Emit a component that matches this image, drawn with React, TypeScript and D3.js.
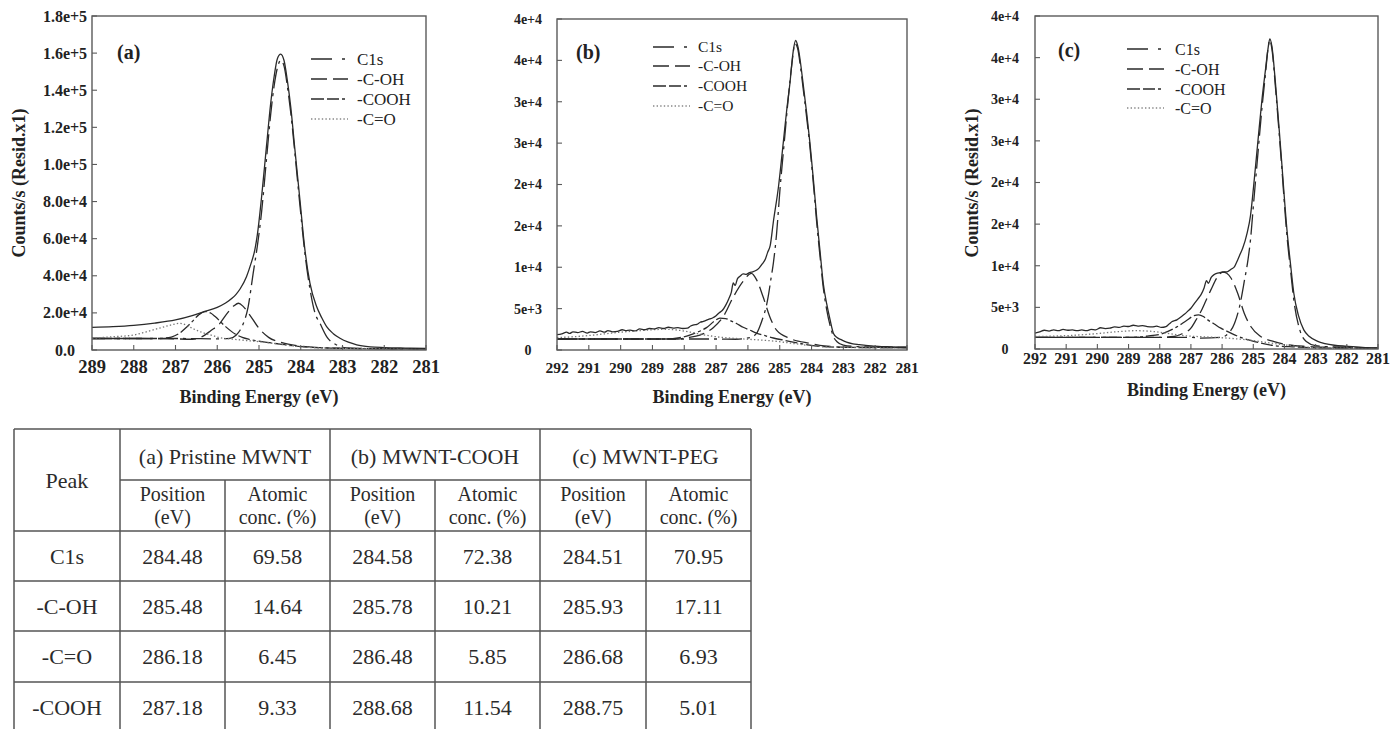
import React from "react";
import * as d3 from "d3";

type Pt = [number, number];

// ---------------- Data ----------------
const xTicksA = [289, 288, 287, 286, 285, 284, 283, 282, 281];
const yTicksA = [0, 20000, 40000, 60000, 80000, 100000, 120000, 140000, 160000, 180000];
const yTickLabelsA = ["0.0", "2.0e+4", "4.0e+4", "6.0e+4", "8.0e+4", "1.0e+5", "1.2e+5", "1.4e+5", "1.6e+5", "1.8e+5"];
const xTicksBC = [292, 291, 290, 289, 288, 287, 286, 285, 284, 283, 282, 281];
const yTicksBC = [0, 5000, 10000, 15000, 20000, 25000, 30000, 35000, 40000];
const yTickLabelsBC = ["0", "5e+3", "1e+4", "2e+4", "2e+4", "3e+4", "3e+4", "4e+4", "4e+4"];

const legendLabels = ["C1s", "-C-OH", "-COOH", "-C=O"];

// Panel (a) Pristine MWNT
const envA: Pt[] = [
  [289.0, 12200], [288.5, 12600], [288.0, 13300], [287.5, 14500], [287.0, 16200], [286.6, 18500],
  [286.3, 20800], [286.0, 23000], [285.8, 25300], [285.64, 28000], [285.55, 30000], [285.45, 33000],
  [285.3, 39500], [285.2, 46000], [285.1, 54000], [285.04, 62000], [284.94, 82000], [284.82, 110000],
  [284.72, 133000], [284.64, 147000], [284.56, 157000], [284.48, 159500], [284.4, 156000],
  [284.32, 145000], [284.24, 131000], [284.14, 108000], [284.02, 81000], [283.9, 54000],
  [283.78, 36000], [283.62, 23400], [283.5, 17500], [283.38, 12600], [283.22, 8800], [283.06, 6300],
  [282.86, 4200], [282.66, 2800], [282.34, 1700], [282.0, 1300], [281.5, 1050], [281.0, 900],
];
const c1sA: Pt[] = [
  [289.0, 6200], [288.0, 6200], [287.0, 6200], [286.4, 6100], [286.0, 6000], [285.7, 6300],
  [285.55, 8000], [285.45, 10800], [285.38, 14000], [285.26, 23300], [285.14, 41300], [285.04, 56000],
  [284.94, 74000], [284.82, 103000], [284.72, 127000], [284.64, 142000], [284.56, 152000],
  [284.48, 156000], [284.4, 153000], [284.32, 142000], [284.24, 128000], [284.14, 106000],
  [284.02, 78000], [283.9, 52000], [283.78, 33000], [283.66, 20000], [283.54, 14400], [283.38, 7200],
  [283.14, 2700], [282.9, 1100], [282.5, 800], [282.0, 700], [281.0, 600],
];
const cohA: Pt[] = [
  [289.0, 6200], [288.0, 6200], [287.2, 6100], [286.6, 5800], [286.3, 8000], [286.15, 10500],
  [285.97, 13500], [285.73, 20700], [285.6, 23800], [285.49, 25200], [285.38, 23500], [285.25, 19800],
  [285.0, 11700], [284.77, 6800], [284.45, 3950], [284.05, 2200], [283.5, 1200], [283.0, 900],
  [282.0, 700], [281.0, 600],
];
const coohA: Pt[] = [
  [289.0, 6200], [288.0, 6200], [287.4, 6200], [287.1, 7000], [286.92, 8800], [286.75, 12000],
  [286.6, 15300], [286.45, 18800], [286.29, 20700], [286.15, 19800], [286.05, 18000], [285.8, 12600],
  [285.57, 8600], [285.4, 6800], [285.25, 5800], [285.0, 4800], [284.5, 3200], [284.0, 1800],
  [283.5, 1200], [283.0, 900], [282.0, 700], [281.0, 600],
];
const cdoA: Pt[] = [
  [289.0, 6300], [288.6, 7000], [288.0, 8100], [287.7, 9800], [287.4, 11700], [287.1, 13500],
  [286.9, 14400], [286.75, 13500], [286.6, 11700], [286.45, 10200], [286.3, 9000], [286.1, 7700],
  [285.97, 6800], [285.6, 5800], [285.3, 5100], [285.0, 4500], [284.6, 3400], [284.2, 2200],
  [283.8, 1400], [283.3, 1000], [282.5, 800], [281.0, 600],
];

// Panel (b) MWNT-COOH
const envB: Pt[] = [
  [292.0, 1850], [291.85, 1950], [291.7, 2150], [291.6, 2000], [291.5, 2200], [291.35, 2100],
  [291.2, 2250], [291.05, 2050], [290.95, 2200], [290.8, 2100], [290.65, 2300], [290.5, 2150],
  [290.4, 2350], [290.25, 2200], [290.1, 2250], [289.95, 2450], [289.85, 2350], [289.7, 2400],
  [289.55, 2300], [289.4, 2550], [289.25, 2450], [289.1, 2600], [288.95, 2550], [288.8, 2700],
  [288.65, 2600], [288.5, 2750], [288.35, 2650], [288.2, 2700], [288.05, 2600], [287.9, 2650],
  [287.8, 2900], [287.7, 3050], [287.6, 3100], [287.5, 3350], [287.4, 3450], [287.3, 3600],
  [287.2, 3750], [287.1, 3900], [287.0, 4150], [286.9, 4500], [286.8, 4800], [286.7, 5400],
  [286.6, 6200], [286.52, 7000], [286.46, 8100], [286.4, 7800], [286.33, 8600], [286.25, 8900],
  [286.15, 9200], [286.05, 9150], [285.95, 9350], [285.85, 9450], [285.75, 9600], [285.65, 9900],
  [285.55, 10400], [285.45, 11000], [285.38, 11800], [285.3, 12600], [285.2, 15500], [285.04, 19700],
  [284.89, 25000], [284.78, 29000], [284.68, 32200], [284.58, 36000], [284.5, 37400], [284.42, 36500],
  [284.34, 34500], [284.26, 32000], [284.15, 28500], [284.05, 25000], [283.94, 20500], [283.84, 16100],
  [283.73, 11800], [283.63, 8000], [283.52, 5500], [283.42, 3700], [283.31, 2000], [283.2, 1500],
  [283.1, 1300], [282.9, 950], [282.7, 750], [282.5, 650], [282.3, 550], [282.05, 480], [281.8, 420],
  [281.5, 380], [281.2, 330], [281.0, 320],
];
const c1sB: Pt[] = [
  [292.0, 1330], [290.0, 1330], [288.0, 1330], [287.0, 1330], [286.36, 1300], [285.94, 1500],
  [285.73, 2000], [285.62, 2900], [285.52, 4000], [285.44, 5000], [285.36, 6500], [285.28, 8500],
  [285.2, 10500], [285.1, 14000], [284.99, 19500], [284.86, 25000], [284.73, 30500], [284.62, 34500],
  [284.52, 37000], [284.44, 36500], [284.34, 34000], [284.26, 31500], [284.15, 28000], [284.05, 24500],
  [283.94, 20000], [283.84, 15500], [283.73, 11200], [283.63, 7500], [283.52, 4800], [283.42, 3000],
  [283.31, 1600], [283.2, 1000], [283.0, 600], [282.5, 400], [282.0, 330], [281.0, 300],
];
const cohB: Pt[] = [
  [292.0, 1330], [290.0, 1330], [288.2, 1330], [287.9, 1500], [287.51, 1800], [287.09, 2700],
  [286.78, 4000], [286.46, 6400], [286.15, 8300], [285.89, 9260], [285.73, 8500], [285.52, 6400],
  [285.31, 4000], [285.1, 2400], [284.68, 1400], [284.05, 800], [283.6, 500], [283.0, 350],
  [282.0, 300], [281.0, 300],
];
const coohB: Pt[] = [
  [292.0, 1330], [290.0, 1330], [288.56, 1330], [288.2, 1450], [287.83, 1800], [287.5, 2300],
  [287.3, 2700], [287.05, 3500], [286.88, 3850], [286.7, 3800], [286.5, 3450], [286.36, 3200],
  [286.15, 2750], [285.94, 2400], [285.73, 2050], [285.52, 1800], [285.2, 1450], [284.89, 1200],
  [284.5, 900], [284.26, 720], [283.63, 400], [283.0, 320], [282.0, 300], [281.0, 300],
];
const cdoB: Pt[] = [
  [292.0, 1500], [291.5, 1600], [291.0, 1750], [290.5, 1950], [290.0, 2150], [289.5, 2300],
  [289.0, 2450], [288.6, 2500], [288.2, 2400], [287.8, 2150], [287.4, 1850], [287.0, 1600],
  [286.6, 1450], [286.2, 1350], [285.8, 1250], [285.4, 1150], [285.0, 1000], [284.6, 800],
  [284.2, 600], [283.8, 450], [283.3, 350], [282.5, 300], [281.0, 300],
];

// Panel (c) MWNT-PEG
const envC: Pt[] = [
  [292.0, 1900], [291.85, 2050], [291.7, 2250], [291.55, 2150], [291.4, 2300], [291.25, 2200],
  [291.1, 2350], [290.95, 2250], [290.8, 2300], [290.65, 2200], [290.5, 2300], [290.35, 2200],
  [290.2, 2350], [290.05, 2300], [289.9, 2550], [289.75, 2450], [289.6, 2500], [289.45, 2650],
  [289.3, 2600], [289.15, 2750], [289.0, 2700], [288.85, 2850], [288.7, 2750], [288.55, 2800],
  [288.4, 2700], [288.25, 2650], [288.1, 2750], [287.95, 2600], [287.8, 2700], [287.7, 3000],
  [287.6, 3300], [287.45, 3500], [287.32, 3850], [287.2, 4200], [287.1, 4550], [287.0, 4900],
  [286.88, 5500], [286.78, 6000], [286.68, 6500], [286.58, 7300], [286.5, 8200], [286.44, 7900],
  [286.35, 8600], [286.25, 8950], [286.15, 9100], [286.04, 9200], [285.93, 9250], [285.82, 9300],
  [285.7, 9600], [285.6, 9900], [285.5, 10700], [285.42, 11400], [285.34, 12100], [285.2, 13900],
  [285.09, 16000], [284.99, 19500], [284.85, 25000], [284.72, 30000], [284.61, 33500], [284.53, 36000],
  [284.47, 37260], [284.4, 36300], [284.29, 32000], [284.12, 24000], [283.91, 13900], [283.8, 10000],
  [283.7, 6700], [283.55, 4000], [283.38, 2300], [283.2, 1500], [282.95, 950], [282.7, 650],
  [282.4, 450], [282.0, 330], [281.5, 200], [281.0, 120],
];
const c1sC: Pt[] = [
  [292.0, 1400], [290.0, 1400], [287.0, 1400], [286.68, 1300], [286.04, 1400], [285.82, 1800],
  [285.6, 3100], [285.44, 5100], [285.28, 8300], [285.17, 10700], [285.09, 13100], [284.99, 17500],
  [284.85, 23500], [284.72, 29000], [284.61, 33000], [284.53, 36000], [284.47, 37100], [284.4, 36000],
  [284.29, 31500], [284.12, 23500], [283.91, 13200], [283.8, 9300], [283.7, 5900], [283.5, 2200],
  [283.3, 900], [283.0, 400], [282.5, 250], [282.0, 200], [281.0, 100],
];
const cohC: Pt[] = [
  [292.0, 1400], [290.0, 1400], [288.0, 1400], [287.54, 1500], [287.3, 1800], [287.0, 2500],
  [286.85, 3400], [286.68, 4500], [286.52, 5800], [286.36, 7100], [286.14, 8700], [285.98, 9250],
  [285.85, 9100], [285.71, 8500], [285.5, 6700], [285.29, 4300], [285.08, 2700], [284.76, 1500],
  [284.33, 900], [283.9, 500], [283.26, 300], [282.5, 200], [281.0, 100],
];
const coohC: Pt[] = [
  [292.0, 1400], [290.0, 1400], [288.82, 1400], [288.4, 1550], [287.96, 1800], [287.43, 2700],
  [287.15, 3400], [286.9, 4000], [286.75, 4100], [286.6, 3900], [286.46, 3500], [286.25, 3000],
  [286.04, 2500], [285.8, 2050], [285.6, 1700], [285.3, 1250], [284.96, 900], [284.32, 400],
  [283.68, 250], [283.0, 150], [282.0, 100], [281.0, 100],
];
const cdoC: Pt[] = [
  [292.0, 1500], [291.0, 1600], [290.0, 1850], [289.3, 2100], [288.75, 2200], [288.2, 2100],
  [287.7, 1850], [287.2, 1600], [286.5, 1450], [285.8, 1300], [285.2, 1100], [284.5, 750],
  [284.0, 500], [283.5, 300], [283.0, 150], [282.0, 100], [281.0, 100],
];

// Table
const tableSamples = ["(a) Pristine MWNT", "(b) MWNT-COOH", "(c) MWNT-PEG"];
const tablePeaks = ["C1s", "-C-OH", "-C=O", "-COOH"];
const positionsA = ["284.48", "285.48", "286.18", "287.18"];
const concA = ["69.58", "14.64", "6.45", "9.33"];
const positionsB = ["284.58", "285.78", "286.48", "288.68"];
const concB = ["72.38", "10.21", "5.85", "11.54"];
const positionsC = ["284.51", "285.93", "286.68", "288.75"];
const concC = ["70.95", "17.11", "6.93", "5.01"];

// ---------------- Styles ----------------
const SERIF = '"Liberation Serif", "Times New Roman", "DejaVu Serif", serif';
const INK = "#2a2a2a";
const FRAME = "#5a5a5a";
const dashes = ["20,5,3,5", "16,6", "13,3,12,3,3,3", "1.4,2.2"];

type PanelCfg = {
  label: string;
  left: number; right: number; top: number; bottom: number;
  xDomain: [number, number]; yDomain: [number, number];
  xTicks: number[]; yTicks: number[]; yLabels: string[];
  env: Pt[]; comps: Pt[][];
  yTickX: number; yTickFont: number;
  xTickY: number; xTickFont: number;
  titleY: number;
  yTitleX: number | null;
  legX: number; legTextX: number; legRows: number[]; legFont: number;
  labelX: number; labelY: number;
};

const panels: PanelCfg[] = [
  {
    label: "(a)", left: 92, right: 426, top: 16, bottom: 350,
    xDomain: [289, 281], yDomain: [0, 180000],
    xTicks: xTicksA, yTicks: yTicksA, yLabels: yTickLabelsA,
    env: envA, comps: [c1sA, cohA, coohA, cdoA],
    yTickX: 65, yTickFont: 16, xTickY: 367, xTickFont: 18.5, titleY: 403,
    yTitleX: 19, legX: 311, legTextX: 357, legRows: [59, 79, 99, 119], legFont: 17,
    labelX: 117, labelY: 59,
  },
  {
    label: "(b)", left: 557, right: 907, top: 19, bottom: 350,
    xDomain: [292, 281], yDomain: [0, 40000],
    xTicks: xTicksBC, yTicks: yTicksBC, yLabels: yTickLabelsBC,
    env: envB, comps: [c1sB, cohB, coohB, cdoB],
    yTickX: 528, yTickFont: 14, xTickY: 368, xTickFont: 15.5, titleY: 403,
    yTitleX: null, legX: 653, legTextX: 698, legRows: [47, 66, 86, 106], legFont: 15.5,
    labelX: 576, labelY: 59,
  },
  {
    label: "(c)", left: 1035, right: 1378, top: 16, bottom: 349,
    xDomain: [292, 281], yDomain: [0, 40000],
    xTicks: xTicksBC, yTicks: yTicksBC, yLabels: yTickLabelsBC,
    env: envC, comps: [c1sC, cohC, coohC, cdoC],
    yTickX: 1005, yTickFont: 14, xTickY: 358, xTickFont: 16, titleY: 396,
    yTitleX: 972, legX: 1127, legTextX: 1175, legRows: [49, 69, 89, 108], legFont: 16,
    labelX: 1058, labelY: 57,
  },
];

function Panel({ cfg }: { cfg: PanelCfg }) {
  const x = d3.scaleLinear().domain(cfg.xDomain).range([cfg.left, cfg.right]);
  const y = d3.scaleLinear().domain(cfg.yDomain).range([cfg.bottom, cfg.top]);
  const line = d3
    .line<Pt>()
    .x((d) => x(d[0]))
    .y((d) => y(d[1]))
    .curve(d3.curveMonotoneX);
  const midX = (cfg.left + cfg.right) / 2;
  return (
    <g>
      <g fill="none" stroke={INK} strokeWidth={1.3}>
        {cfg.comps.map((c, i) => (
          <path
            key={i}
            d={line(c) || ""}
            strokeDasharray={dashes[i]}
            strokeWidth={1.3}
            stroke={i === 3 ? "#777" : INK}
          />
        ))}
        <path d={line(cfg.env) || ""} />
      </g>
      <rect
        x={cfg.left}
        y={cfg.top}
        width={cfg.right - cfg.left}
        height={cfg.bottom - cfg.top}
        fill="none"
        stroke={FRAME}
        strokeWidth={1.4}
      />
      <g stroke={FRAME} strokeWidth={1.1}>
        {cfg.xTicks.map((t) => (
          <line key={"xt" + t} x1={x(t)} x2={x(t)} y1={cfg.bottom} y2={cfg.bottom - 5} />
        ))}
        {cfg.yTicks.map((t) => (
          <line key={"yt" + t} x1={cfg.left} x2={cfg.left + 5} y1={y(t)} y2={y(t)} />
        ))}
      </g>
      <g style={{ fontFamily: SERIF }} fontWeight="bold" fill="#222">
        {cfg.xTicks.map((t) => (
          <text key={"xl" + t} x={x(t)} y={cfg.xTickY} dy="0.35em" textAnchor="middle" fontSize={cfg.xTickFont}>
            {t}
          </text>
        ))}
        {cfg.yTicks.map((t, i) => (
          <text key={"yl" + t} x={cfg.yTickX} y={y(t)} dy="0.35em" textAnchor="middle" fontSize={cfg.yTickFont}>
            {cfg.yLabels[i]}
          </text>
        ))}
        <text x={midX} y={cfg.titleY} textAnchor="middle" fontSize={18}>
          Binding Energy (eV)
        </text>
        {cfg.yTitleX !== null && (
          <text
            x={cfg.yTitleX}
            y={183}
            dy="0.35em"
            textAnchor="middle"
            fontSize={18}
            transform={`rotate(-90 ${cfg.yTitleX} 183)`}
          >
            Counts/s (Resid.x1)
          </text>
        )}
        <text x={cfg.labelX} y={cfg.labelY} fontSize={20}>
          {cfg.label}
        </text>
      </g>
      <g>
        {legendLabels.map((lab, i) => (
          <g key={lab}>
            <line
              x1={cfg.legX}
              x2={cfg.legX + 37}
              y1={cfg.legRows[i]}
              y2={cfg.legRows[i]}
              stroke={i === 3 ? "#888" : INK}
              strokeWidth={1.3}
              strokeDasharray={i === 0 ? "21,10,3,10" : dashes[i]}
            />
            <text
              x={cfg.legTextX}
              y={cfg.legRows[i]}
              dy="0.35em"
              style={{ fontFamily: SERIF }}
              fontSize={cfg.legFont}
              fill="#222"
            >
              {lab}
            </text>
          </g>
        ))}
      </g>
    </g>
  );
}

const colX = [14, 120, 225, 330, 435, 540, 646, 751];
const rowY = [429, 480, 531, 581, 631, 682, 732];

function Table() {
  const positions = [positionsA, positionsB, positionsC];
  const concs = [concA, concB, concC];
  const cx = (i: number) => (colX[i] + colX[i + 1]) / 2;
  const ry = (i: number) => (rowY[i] + rowY[i + 1]) / 2;
  return (
    <g style={{ fontFamily: SERIF }} fontSize={22} fill="#2b2b2b">
      <g stroke="#555" strokeWidth={1.5}>
        <line x1={colX[0]} x2={colX[7]} y1={rowY[0]} y2={rowY[0]} />
        <line x1={colX[1]} x2={colX[7]} y1={rowY[1]} y2={rowY[1]} />
        {rowY.slice(2).map((yy) => (
          <line key={"h" + yy} x1={colX[0]} x2={colX[7]} y1={yy} y2={yy} />
        ))}
        {[0, 1, 3, 5, 7].map((ci) => (
          <line key={"v" + ci} x1={colX[ci]} x2={colX[ci]} y1={rowY[0]} y2={rowY[6]} />
        ))}
        {[2, 4, 6].map((ci) => (
          <line key={"s" + ci} x1={colX[ci]} x2={colX[ci]} y1={rowY[1]} y2={rowY[6]} />
        ))}
      </g>
      <text x={cx(0)} y={(rowY[0] + rowY[2]) / 2} dy="0.35em" textAnchor="middle">Peak</text>
      {tableSamples.map((s, i) => (
        <g key={s}>
          <text x={(colX[1 + 2 * i] + colX[3 + 2 * i]) / 2} y={ry(0) + 2} dy="0.35em" textAnchor="middle">{s}</text>
          <text x={cx(1 + 2 * i)} y={494} dy="0.35em" textAnchor="middle" fontSize={20}>Position</text>
          <text x={cx(1 + 2 * i)} y={517} dy="0.35em" textAnchor="middle" fontSize={20}>(eV)</text>
          <text x={cx(2 + 2 * i)} y={494} dy="0.35em" textAnchor="middle" fontSize={20}>Atomic</text>
          <text x={cx(2 + 2 * i)} y={517} dy="0.35em" textAnchor="middle" fontSize={20}>conc. (%)</text>
        </g>
      ))}
      {tablePeaks.map((p, r) => (
        <g key={p}>
          <text x={cx(0)} y={ry(r + 2)} dy="0.35em" textAnchor="middle">{p}</text>
          {positions.map((arr, i) => (
            <text key={"p" + i} x={cx(1 + 2 * i)} y={ry(r + 2)} dy="0.35em" textAnchor="middle">{arr[r]}</text>
          ))}
          {concs.map((arr, i) => (
            <text key={"c" + i} x={cx(2 + 2 * i)} y={ry(r + 2)} dy="0.35em" textAnchor="middle">{arr[r]}</text>
          ))}
        </g>
      ))}
    </g>
  );
}

export default function App() {
  return (
    <div style={{ position: "absolute", left: 0, top: 0, width: 1390, height: 729, overflow: "hidden", background: "#fff" }}>
      <svg width={1390} height={729} viewBox="0 0 1390 729" style={{ display: "block" }}>
        <rect x={0} y={0} width={1390} height={729} fill="#fff" />
        {panels.map((p) => (
          <Panel key={p.label} cfg={p} />
        ))}
        <Table />
      </svg>
    </div>
  );
}
